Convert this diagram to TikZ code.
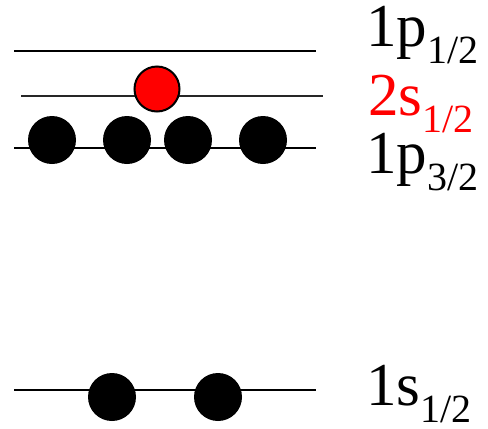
\documentclass[tikz,border=0pt]{standalone}
\usepackage{fontspec}
\setmainfont{Liberation Serif}
\usepackage{tikz}
\usetikzlibrary{calc}
\newcommand{\lvlsub}[1]{\raisebox{-17pt}{\fontsize{40}{40}\selectfont #1}}
\begin{document}
\begin{tikzpicture}[x=1pt,y=-1pt,
  level/.style={line width=2pt},
  nucleon/.style={circle,fill=black,inner sep=0pt,minimum size=48pt},
  valence/.style={circle,fill=red,draw=black,line width=2pt,inner sep=0pt,minimum size=45pt},
  lvllabel/.style={anchor=base west,inner sep=0pt,font=\fontsize{61}{61}\selectfont}]
 \useasboundingbox (0,0) rectangle (488,429);
 % energy levels
 \coordinate (pa) at (14,51);   \coordinate (pb) at (316,51);
 \coordinate (sa) at (21,96);   \coordinate (sb) at (323,96);
 \coordinate (qa) at (14,148);  \coordinate (qb) at (316,148);
 \coordinate (ta) at (14,390);  \coordinate (tb) at (316,390);
 \draw[level] (pa)--(pb);
 \draw[level,black!85] (sa)--(sb);
 \draw[level] (qa)--(qb);
 \draw[level] (ta)--(tb);
 % occupied states
 \foreach \x/\n in {52/q1,127/q2,188/q3,263/q4}
   \node[nucleon] (\n) at (\x,140) {};
 \foreach \x/\n in {112/t1,218/t2}
   \node[nucleon] (\n) at (\x,397) {};
 \node[valence] (s1) at (157,89) {};
 % labels
 \node[lvllabel] (lp1) at (366,46) {1p\lvlsub{1/2}};
 \node[lvllabel,text=red] (ls1) at (368,115) {2s\lvlsub{1/2}};
 \node[lvllabel] (lp3) at (366,173) {1p\lvlsub{3/2}};
 \node[lvllabel] (lt1) at (366,405) {1s\lvlsub{1/2}};
\end{tikzpicture}
\end{document}
